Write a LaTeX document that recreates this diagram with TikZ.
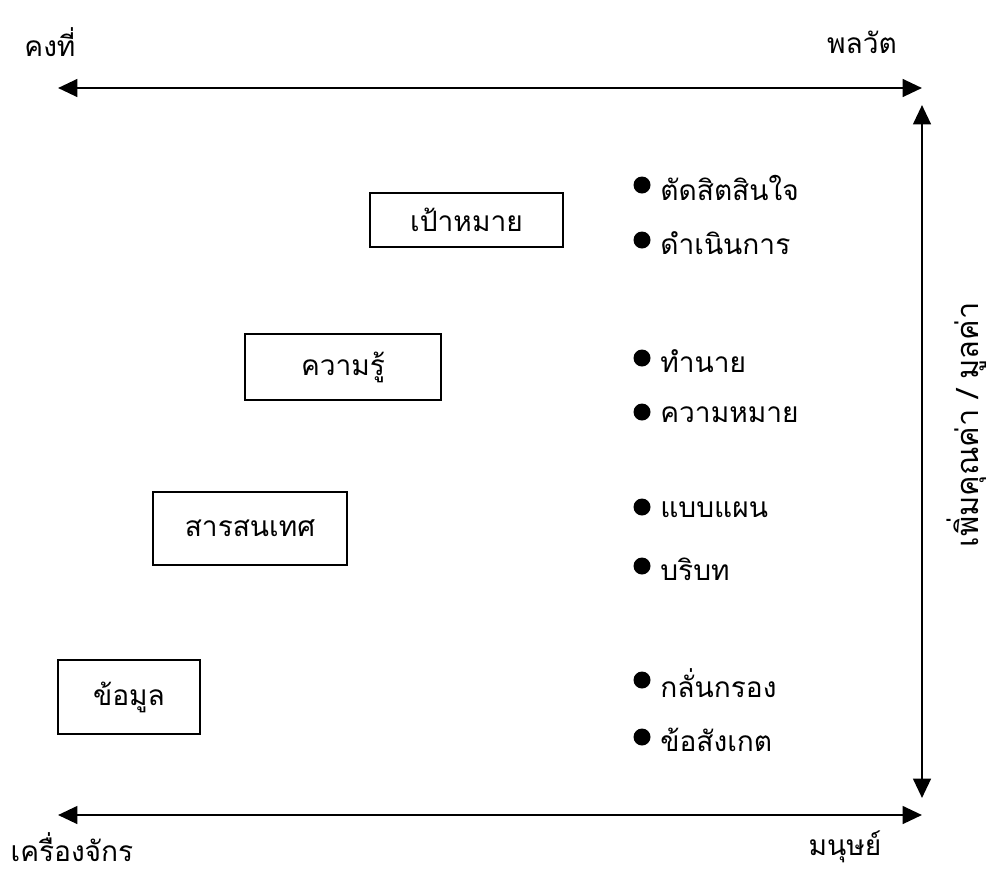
\documentclass[tikz,border=0pt]{standalone}
\usepackage{fontspec}
\usetikzlibrary{arrows.meta}
\newfontfamily\thaifont[Script=Thai]{Loma}
\tikzset{
	axis/.style={line width=1.5pt, {Triangle[length=11pt,width=10pt]}-{Triangle[length=11pt,width=10pt]}},
	levelbox/.style={draw, line width=1pt, inner sep=0pt, font=\thaifont\fontsize{16}{19}\selectfont},
	item/.style={anchor=west, inner sep=0pt, font=\thaifont\fontsize{16}{19}\selectfont},
	label/.style={inner sep=0pt, font=\thaifont\fontsize{16}{19}\selectfont}
}

\begin{document}
\begin{tikzpicture}[x=0.02cm, y=-0.02cm]
		%%%%% START %%%%%
		\useasboundingbox (0, 0) rectangle (999, 873);
		
		% corners of the frame
		\coordinate (tl) at (58, 88);
		\coordinate (tr) at (922, 88);
		\coordinate (rt) at (922, 105);
		\coordinate (rb) at (922, 798);
		\coordinate (bl) at (58, 815);
		\coordinate (br) at (922, 815);
		
		\draw[axis] (tl) -- (tr);
		\draw[axis] (rt) -- (rb);
		\draw[axis] (bl) -- (br);
		
		\node[label] (static) at (50, 42) {คงที่};
		\node[label] (dynamic) at (862, 42) {พลวัต};
		\node[label] (machine) at (72, 847) {เครื่องจักร};
		\node[label] (human) at (845, 847) {มนุษย์};
		\node[label, rotate=90, font=\thaifont\fontsize{17.5}{20}\selectfont] (value) at (967, 425) {เพิ่มคุณค่า / มูลค่า};
		
		% the four levels
		\node[levelbox, minimum width=3.86cm, minimum height=1.08cm] (goal) at (466.5, 220) {เป้าหมาย};
		\node[levelbox, minimum width=3.92cm, minimum height=1.32cm] (knowledge) at (343, 367) {ความรู้};
		\node[levelbox, minimum width=3.88cm, minimum height=1.46cm] (information) at (250, 528.5) {สารสนเทศ};
		\node[levelbox, minimum width=2.84cm, minimum height=1.48cm] (data) at (129, 697) {ข้อมูล};
		
		% bullet points
		\foreach \y/\txt/\nm in {185/ตัดสิตสินใจ/decide, 240/ดำเนินการ/act, 358/ทำนาย/predict, 412/ความหมาย/meaning, 507/แบบแผน/pattern, 566/บริบท/context, 680/กลั่นกรอง/filter, 737/ข้อสังเกต/observe}{
			\fill (642, \y) circle[radius=0.17cm];
			\node[item] (\nm) at (660, \y+3) {\txt};
		}
		
		%%%%% END %%%%%
	\end{tikzpicture}
\end{document}
